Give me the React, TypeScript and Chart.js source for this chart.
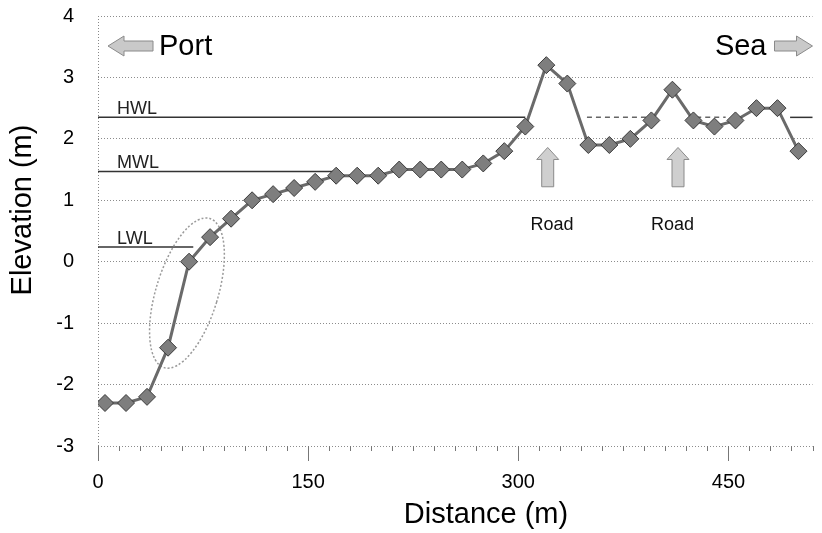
import React, { useEffect, useRef } from "react";
import { Chart, registerables } from "chart.js";

Chart.register(...registerables);

// ---- data ----
const distances = [5, 20, 35, 50, 65, 80, 95, 110, 125, 140, 155, 170, 185, 200, 215, 230, 245, 260, 275, 290, 305, 320, 335, 350, 365, 380, 395, 410, 425, 440, 455, 470, 485, 500];
const elevations = [-2.3, -2.3, -2.2, -1.4, 0.0, 0.4, 0.7, 1.0, 1.1, 1.2, 1.3, 1.4, 1.4, 1.4, 1.5, 1.5, 1.5, 1.5, 1.6, 1.8, 2.2, 3.2, 2.9, 1.9, 1.9, 2.0, 2.3, 2.8, 2.3, 2.2, 2.3, 2.5, 2.5, 1.8];

const xTickLabels = [0, 150, 300, 450];
const yTickMin = -3;
const yTickMax = 4;
const xMin = 0;
const xMax = 510;
const minorTickStep = 15;

const levelNames = ["HWL", "MWL", "LWL"];
const levelElevations = [2.35, 1.47, 0.24];
// [from, to, dashed?]
const levelSegments: [number, number, boolean][][] = [
  [[0, 305, false], [349, 395, true], [427, 448, true], [494, 510, false]],
  [[0, 171, false]],
  [[0, 68, false]],
];

const roadArrowX = [321, 414];
const roadLabelX = [324, 410];
const roadLabel = "Road";
const roadArrowTop = 1.86;
const roadArrowBottom = 1.22;
const roadLabelY = 0.6;

const ellipseCenter = { x: 63.5, y: -0.51 };

const FONT = "'Liberation Sans', Arial, Helvetica, sans-serif";

function arrowLeft(ctx: CanvasRenderingContext2D, tipX: number, cy: number, len: number) {
  const headLen = 16, headH = 10, shaftH = 5;
  ctx.beginPath();
  ctx.moveTo(tipX, cy);
  ctx.lineTo(tipX + headLen, cy - headH);
  ctx.lineTo(tipX + headLen, cy - shaftH);
  ctx.lineTo(tipX + len, cy - shaftH);
  ctx.lineTo(tipX + len, cy + shaftH);
  ctx.lineTo(tipX + headLen, cy + shaftH);
  ctx.lineTo(tipX + headLen, cy + headH);
  ctx.closePath();
  ctx.fill();
  ctx.stroke();
}

function arrowRight(ctx: CanvasRenderingContext2D, tipX: number, cy: number, len: number) {
  const headLen = 16, headH = 10, shaftH = 5;
  ctx.beginPath();
  ctx.moveTo(tipX, cy);
  ctx.lineTo(tipX - headLen, cy - headH);
  ctx.lineTo(tipX - headLen, cy - shaftH);
  ctx.lineTo(tipX - len, cy - shaftH);
  ctx.lineTo(tipX - len, cy + shaftH);
  ctx.lineTo(tipX - headLen, cy + shaftH);
  ctx.lineTo(tipX - headLen, cy + headH);
  ctx.closePath();
  ctx.fill();
  ctx.stroke();
}

function arrowUp(ctx: CanvasRenderingContext2D, cx: number, tipY: number, bottomY: number) {
  const headLen = 12, headW = 11, shaftW = 6;
  ctx.beginPath();
  ctx.moveTo(cx, tipY);
  ctx.lineTo(cx + headW, tipY + headLen);
  ctx.lineTo(cx + shaftW, tipY + headLen);
  ctx.lineTo(cx + shaftW, bottomY);
  ctx.lineTo(cx - shaftW, bottomY);
  ctx.lineTo(cx - shaftW, tipY + headLen);
  ctx.lineTo(cx - headW, tipY + headLen);
  ctx.closePath();
  ctx.fill();
  ctx.stroke();
}

const annotations = {
  id: "annotations",
  beforeDatasetsDraw(chart: any) {
    const { ctx, chartArea: ca, scales } = chart;
    const x = scales.x, y = scales.y;
    ctx.save();
    // left axis (dotted)
    ctx.strokeStyle = "#888";
    ctx.lineWidth = 1;
    ctx.setLineDash([1, 2]);
    ctx.beginPath();
    ctx.moveTo(Math.round(ca.left) + 0.5, ca.top);
    ctx.lineTo(Math.round(ca.left) + 0.5, ca.bottom);
    ctx.stroke();
    // minor ticks on x axis
    ctx.setLineDash([]);
    ctx.strokeStyle = "#777";
    ctx.beginPath();
    for (let v = xMin; v <= xMax; v += minorTickStep) {
      const px = Math.round(x.getPixelForValue(v)) + 0.5;
      ctx.moveTo(px, ca.bottom);
      ctx.lineTo(px, ca.bottom + 5);
    }
    ctx.stroke();

    // water level lines
    levelNames.forEach((name, i) => {
      const py = y.getPixelForValue(levelElevations[i]);
      levelSegments[i].forEach(([a, b, dashed]) => {
        ctx.strokeStyle = dashed ? "#666" : "#333";
        ctx.lineWidth = 1.5;
        ctx.setLineDash(dashed ? [5, 4] : []);
        ctx.beginPath();
        ctx.moveTo(x.getPixelForValue(a), py);
        ctx.lineTo(x.getPixelForValue(b), py);
        ctx.stroke();
      });
      ctx.setLineDash([]);
      ctx.fillStyle = "#222";
      ctx.font = `18px ${FONT}`;
      ctx.textAlign = "left";
      ctx.textBaseline = "alphabetic";
      ctx.fillText(name, ca.left + 19, py - 3);
    });

    // ellipse
    ctx.strokeStyle = "#9a9a9a";
    ctx.lineWidth = 1.5;
    ctx.setLineDash([2, 2]);
    ctx.beginPath();
    ctx.ellipse(
      x.getPixelForValue(ellipseCenter.x),
      y.getPixelForValue(ellipseCenter.y),
      31,
      78,
      (17 * Math.PI) / 180,
      0,
      Math.PI * 2
    );
    ctx.stroke();
    ctx.restore();
  },
  afterDatasetsDraw(chart: any) {
    const { ctx, chartArea: ca, scales } = chart;
    const x = scales.x, y = scales.y;
    ctx.save();
    ctx.fillStyle = "#c9c9c9";
    ctx.strokeStyle = "#8a8a8a";
    ctx.lineWidth = 1;
    // Port / Sea
    arrowLeft(ctx, ca.left + 10, 46, 45);
    arrowRight(ctx, ca.right, 46, 38);
    ctx.fillStyle = "#000";
    ctx.font = `29px ${FONT}`;
    ctx.textBaseline = "alphabetic";
    ctx.textAlign = "left";
    ctx.fillText("Port", ca.left + 61, 55);
    ctx.textAlign = "right";
    ctx.fillText("Sea", ca.right - 46, 55);

    // Road arrows
    roadArrowX.forEach((rx, i) => {
      ctx.fillStyle = "#cfcfcf";
      ctx.strokeStyle = "#8a8a8a";
      arrowUp(ctx, x.getPixelForValue(rx), y.getPixelForValue(roadArrowTop), y.getPixelForValue(roadArrowBottom));
      ctx.fillStyle = "#111";
      ctx.font = `18px ${FONT}`;
      ctx.textAlign = "center";
      ctx.textBaseline = "middle";
      ctx.fillText(roadLabel, x.getPixelForValue(roadLabelX[i]), y.getPixelForValue(roadLabelY));
    });

    // axis titles
    ctx.fillStyle = "#000";
    ctx.font = `29px ${FONT}`;
    ctx.textAlign = "center";
    ctx.textBaseline = "middle";
    ctx.fillText("Distance (m)", 486, 515);
    ctx.save();
    ctx.translate(23, 210);
    ctx.rotate(-Math.PI / 2);
    ctx.fillText("Elevation (m)", 0, 0);
    ctx.restore();
    ctx.restore();
  },
};

export default function App() {
  const canvasRef = useRef<HTMLCanvasElement | null>(null);

  useEffect(() => {
    const canvas = canvasRef.current;
    if (!canvas) return;
    const chart = new Chart(canvas, {
      type: "line",
      data: {
        datasets: [
          {
            data: distances.map((d, i) => ({ x: d, y: elevations[i] })),
            borderColor: "#6a6a6a",
            borderWidth: 3,
            pointStyle: "rectRot",
            pointRadius: 8.5,
            pointBackgroundColor: "#7e7e7e",
            pointBorderColor: "#3a3a3a",
            pointBorderWidth: 1,
            tension: 0,
            fill: false,
          },
        ],
      },
      options: {
        responsive: false,
        animation: false,
        events: [],
        layout: { padding: { top: 16, right: 2, left: 0, bottom: 0 } },
        plugins: { legend: { display: false }, tooltip: { enabled: false }, title: { display: false } },
        scales: {
          x: {
            type: "linear",
            min: xMin,
            max: xMax,
            afterBuildTicks: (s: any) => {
              s.ticks = xTickLabels.map((v) => ({ value: v }));
            },
            afterFit: (s: any) => {
              s.height = 87;
              s.paddingLeft = 0;
              s.paddingRight = 0;
            },
            grid: { display: true, drawOnChartArea: false, drawTicks: true, tickLength: 15, color: "#777", lineWidth: 1 },
            border: { display: false },
            ticks: {
              autoSkip: false,
              maxRotation: 0,
              padding: 9,
              color: "#000",
              font: { size: 20, family: FONT },
            },
          },
          y: {
            min: yTickMin,
            max: yTickMax,
            afterFit: (s: any) => {
              s.width = 98;
              s.paddingTop = 0;
              s.paddingBottom = 0;
            },
            grid: { color: "#8c8c8c", lineWidth: 1, drawTicks: false },
            border: { display: false, dash: [1, 2] },
            ticks: {
              stepSize: 1,
              padding: 24,
              color: "#000",
              font: { size: 20, family: FONT },
            },
          },
        },
      },
      plugins: [annotations],
    } as any);
    return () => chart.destroy();
  }, []);

  return (
    <div style={{ position: "fixed", left: 0, top: 0, width: 822, height: 533, background: "#fff" }}>
      <canvas ref={canvasRef} width={822} height={533} style={{ display: "block", width: 822, height: 533 }} />
    </div>
  );
}
